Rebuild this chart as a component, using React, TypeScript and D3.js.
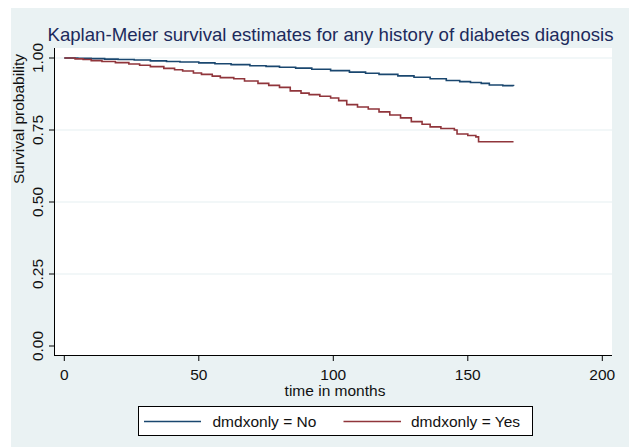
import React from "react";
import * as d3 from "d3";

const title = "Kaplan-Meier survival estimates for any history of diabetes diagnosis";
const xTicks = [0, 50, 100, 150, 200];
const yTicks = [0, 0.25, 0.5, 0.75, 1];
const seriesNames = ["dmdxonly = No", "dmdxonly = Yes"];
const seriesColors = ["#1a476f", "#90353b"];

const noTime = [0, 5, 10, 15, 20, 26, 32, 38, 43, 50, 56, 62, 69, 75, 80, 86, 92, 99, 106, 112, 117, 124, 130, 136, 142, 147, 151, 155, 158, 163, 167];
const noSurv = [1.0, 0.999, 0.998, 0.996, 0.995, 0.993, 0.99, 0.988, 0.986, 0.983, 0.98, 0.977, 0.973, 0.971, 0.968, 0.965, 0.961, 0.956, 0.951, 0.947, 0.943, 0.938, 0.933, 0.928, 0.922, 0.918, 0.915, 0.912, 0.906, 0.904, 0.903];

const yesTime = [0, 4, 7, 10, 14, 19, 24, 28, 32, 37, 41, 44, 48, 51, 55, 58, 63, 67, 72, 76, 80, 84, 88, 91, 95, 99, 102, 105, 109, 113, 117, 121, 125, 129, 133, 136, 140, 145, 146, 150, 153, 154, 167];
const yesSurv = [1.0, 0.997, 0.995, 0.991, 0.988, 0.984, 0.979, 0.975, 0.97, 0.964, 0.959, 0.955, 0.948, 0.943, 0.937, 0.932, 0.928, 0.92, 0.912, 0.905, 0.898, 0.886, 0.878, 0.873, 0.867, 0.861, 0.852, 0.838, 0.83, 0.823, 0.813, 0.802, 0.792, 0.779, 0.77, 0.761, 0.755, 0.75, 0.736, 0.731, 0.726, 0.709, 0.709];

const W = 629;
const H = 447;
const plot = { left: 55, right: 612, top: 48, bottom: 356 };

export default function App() {
  const x = d3.scaleLinear().domain([0, 200]).range([64.3, 602.3]);
  const y = d3.scaleLinear().domain([0, 1]).range([346, 58]);
  const line = d3
    .line<[number, number]>()
    .x((d) => x(d[0]))
    .y((d) => y(d[1]))
    .curve(d3.curveStepAfter);
  const noData: [number, number][] = noTime.map((t, i) => [t, noSurv[i]]);
  const yesData: [number, number][] = yesTime.map((t, i) => [t, yesSurv[i]]);
  const font = "'Liberation Sans', Arial, sans-serif";
  const fs = 15.5;

  return (
    <svg
      width={W}
      height={H}
      style={{ position: "absolute", left: 0, top: 0, background: "#ffffff" }}
      fontFamily={font}
    >
      <rect x={11} y={8} width={W - 11} height={H - 8} fill="#eaf2f3" />
      <rect
        x={plot.left}
        y={plot.top}
        width={plot.right - plot.left}
        height={plot.bottom - plot.top}
        fill="#ffffff"
      />
      {yTicks
        .filter((t) => t > 0)
        .map((t) => (
          <line
            key={"g" + t}
            x1={plot.left}
            x2={plot.right}
            y1={y(t)}
            y2={y(t)}
            stroke="#e6eff1"
            strokeWidth={1.2}
          />
        ))}
      <text x={47.5} y={40.5} fontSize={18.5} fill="#1c2a5c" textLength={566} lengthAdjust="spacingAndGlyphs">
        {title}
      </text>
      {/* Y axis */}
      <line x1={54.5} x2={54.5} y1={plot.top} y2={plot.bottom} stroke="#000" strokeWidth={1} />
      {yTicks.map((t) => (
        <g key={"y" + t}>
          <line x1={49} x2={54.5} y1={y(t)} y2={y(t)} stroke="#000" strokeWidth={1} />
          <text
            transform={`translate(43,${y(t)}) rotate(-90)`}
            textAnchor="middle"
            fontSize={fs}
            fill="#111"
          >
            {t.toFixed(2)}
          </text>
        </g>
      ))}
      <text
        transform={`translate(24,119) rotate(-90)`}
        textAnchor="middle"
        fontSize={fs}
        fill="#111"
      >
        Survival probability
      </text>
      {/* X axis */}
      <line x1={54.5} x2={plot.right} y1={355.5} y2={355.5} stroke="#000" strokeWidth={1} />
      {xTicks.map((t) => (
        <g key={"x" + t}>
          <line x1={x(t)} x2={x(t)} y1={355.5} y2={361} stroke="#000" strokeWidth={1} />
          <text x={x(t)} y={379.5} textAnchor="middle" fontSize={fs} fill="#111">
            {t}
          </text>
        </g>
      ))}
      <text x={335} y={396} textAnchor="middle" fontSize={fs} fill="#111">
        time in months
      </text>
      {/* Curves */}
      <path d={line(noData) || ""} fill="none" stroke={seriesColors[0]} strokeWidth={1.6} />
      <path d={line(yesData) || ""} fill="none" stroke={seriesColors[1]} strokeWidth={1.6} />
      {/* Legend */}
      <rect x={138.5} y={406.5} width={394} height={29} fill="#ffffff" stroke="#000" strokeWidth={1} />
      <line x1={144} x2={201} y1={421.5} y2={421.5} stroke={seriesColors[0]} strokeWidth={1.6} />
      <text x={212.5} y={427} fontSize={fs} fill="#111">
        {seriesNames[0]}
      </text>
      <line x1={343.5} x2={401} y1={421.5} y2={421.5} stroke={seriesColors[1]} strokeWidth={1.6} />
      <text x={411} y={427} fontSize={fs} fill="#111">
        {seriesNames[1]}
      </text>
    </svg>
  );
}
